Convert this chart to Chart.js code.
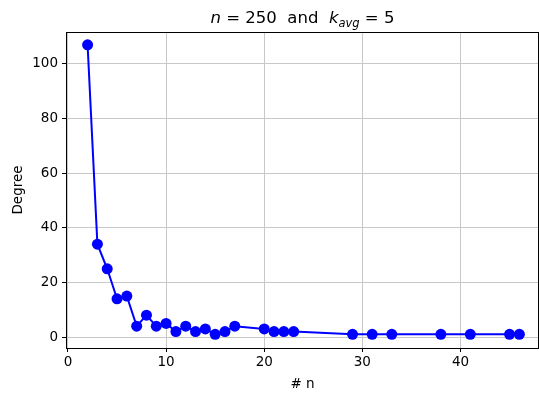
<!DOCTYPE html>
<html>
<head>
<meta charset="utf-8">
<script src="https://cdn.jsdelivr.net/npm/chart.js@4"></script>
<style>
  html, body { margin: 0; padding: 0; background: #fff; }
  #wrap { width: 539px; height: 397px; }
</style>
</head>
<body>
<div id="wrap"><canvas id="chart" width="539" height="397"></canvas></div>
<script>
const nValues = [2, 3, 4, 5, 6, 7, 8, 9, 10, 11, 12, 13, 14, 15, 16, 17, 20, 21, 22, 23, 29, 31, 33, 38, 41, 45, 46];
const degrees = [107, 34, 25, 14, 15, 4, 8, 4, 5, 2, 4, 2, 3, 1, 2, 4, 3, 2, 2, 2, 1, 1, 1, 1, 1, 1, 1];
const xTicks = [0, 10, 20, 30, 40];
const yTicks = [0, 20, 40, 60, 80, 100];

const FONT = "'DejaVu Sans', sans-serif";

// matplotlib style title: $n = 250$  and  $k_{avg} = 5$
const mathTitle = {
  id: "mathTitle",
  afterDraw(chart) {
    const { ctx, chartArea } = chart;
    const parts = [
      { t: "n", f: "italic 16.5px " + FONT },
      { t: " = 250  and  ", f: "16.5px " + FONT },
      { t: "k", f: "italic 16.5px " + FONT },
      { t: "avg", f: "italic 11.5px " + FONT, dy: 4 },
      { t: " = 5", f: "16.5px " + FONT }
    ];
    let total = 0;
    parts.forEach((p) => { ctx.font = p.f; p.w = ctx.measureText(p.t).width; total += p.w; });
    let x = (chartArea.left + chartArea.right) / 2 - total / 2;
    ctx.save();
    ctx.fillStyle = "#000";
    ctx.textBaseline = "alphabetic";
    parts.forEach((p) => {
      ctx.font = p.f;
      ctx.fillText(p.t, x, 23 + (p.dy || 0));
      x += p.w;
    });
    // full box around the axes
    ctx.strokeStyle = "#000";
    ctx.lineWidth = 1;
    ctx.strokeRect(chartArea.left + 0.5, chartArea.top + 0.5, chartArea.right - chartArea.left - 1, chartArea.bottom - chartArea.top);
    ctx.restore();
  }
};

new Chart(document.getElementById("chart"), {
  type: "line",
  data: {
    datasets: [{
      data: nValues.map((n, i) => ({ x: n, y: degrees[i] })),
      borderColor: "#0000ff",
      backgroundColor: "#0000ff",
      borderWidth: 2,
      pointRadius: 5.5,
      pointHoverRadius: 5.5,
      pointBorderWidth: 0,
      tension: 0
    }]
  },
  options: {
    responsive: false,
    animation: false,
    layout: { autoPadding: false, padding: { top: 32, right: 0, left: 0, bottom: 0 } },
    plugins: { legend: { display: false }, tooltip: { enabled: false } },
    scales: {
      x: {
        type: "linear",
        min: -0.2,
        max: 48.0,
        afterBuildTicks: (s) => { s.ticks = xTicks.map((v) => ({ value: v })); },
        afterFit: (s) => { s.height = 49; s.paddingLeft = 0; s.paddingRight = 0; },
        grid: { color: "#c8c8c8", lineWidth: 1, tickLength: 4, tickColor: "#000" },
        border: { display: true, color: "#000" },
        ticks: { color: "#000", font: { family: FONT, size: 13.5 }, padding: 2, maxRotation: 0 },
        title: { display: true, text: "# n", color: "#000", font: { family: FONT, size: 13.5 }, padding: { top: 1 } }
      },
      y: {
        min: -4.0,
        max: 111.7,
        afterBuildTicks: (s) => { s.ticks = yTicks.map((v) => ({ value: v })); },
        afterFit: (s) => { s.width = 66; s.paddingTop = 0; s.paddingBottom = 0; },
        grid: { color: "#c8c8c8", lineWidth: 1, tickLength: 4, tickColor: "#000" },
        border: { display: true, color: "#000" },
        ticks: { color: "#000", font: { family: FONT, size: 13.5 }, padding: 4 },
        title: { display: true, text: "Degree", color: "#000", font: { family: FONT, size: 13.5 }, padding: { top: 10, bottom: 4 } }
      }
    }
  },
  plugins: [mathTitle]
});
</script>
</body>
</html>
